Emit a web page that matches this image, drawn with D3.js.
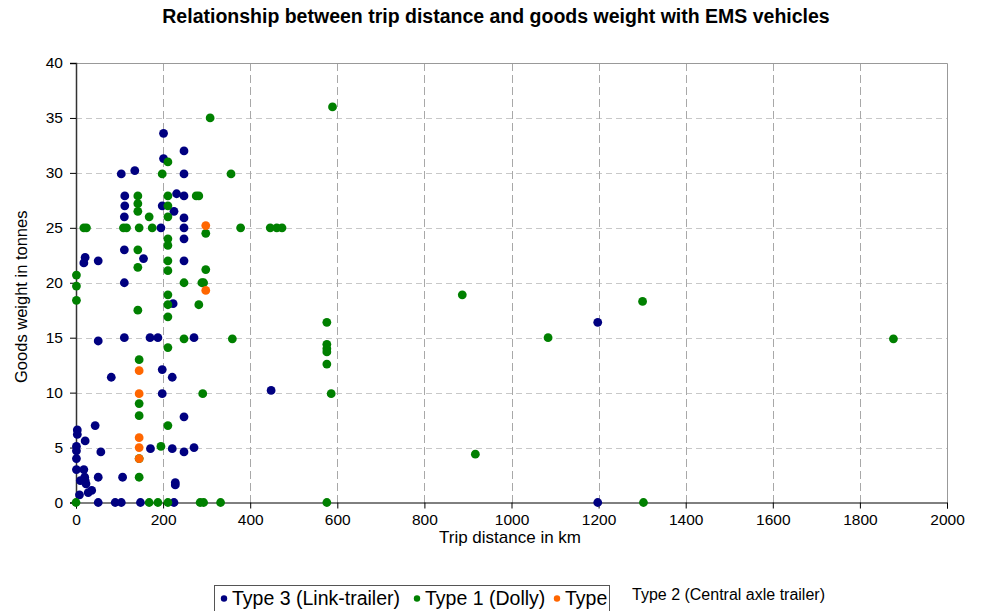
<!DOCTYPE html>
<html>
<head>
<meta charset="utf-8">
<script src="https://cdn.jsdelivr.net/npm/d3@7"></script>
<style>
  body { margin: 0; background: #fff; }
  svg { font-family: "Liberation Sans", Arial, sans-serif; }
</style>
</head>
<body>
<svg id="chart" width="982" height="611"></svg>
<script>
// trip distance (km), goods weight (t) per vehicle type
const type3 = [
  [201, 33.6], [248, 32.0], [201, 31.3], [104, 29.9], [135, 30.2], [248, 29.9],
  [112, 27.9], [231, 28.1], [248, 27.9], [112, 27.0], [198, 27.0], [225, 26.5],
  [111, 26.0], [248, 25.9], [195, 25.0], [248, 25.0], [111, 23.0], [248, 24.0],
  [155, 22.2], [21, 22.3], [18, 21.8], [51, 22.0], [248, 22.0], [111, 20.0],
  [223, 18.1], [51, 14.7], [111, 15.0], [170, 15.0], [188, 15.0], [271, 15.0],
  [1198, 16.4], [448, 10.2], [81, 11.4], [198, 12.1], [221, 11.4], [198, 9.9],
  [248, 7.8], [44, 7.0], [3, 6.6], [3, 6.2], [21, 5.6], [1, 5.1], [1, 4.7],
  [1, 4.0], [57, 4.6], [171, 4.9], [221, 4.9], [248, 4.6], [271, 5.0], [1, 3.0],
  [18, 3.0], [20, 2.3], [21, 2.0], [10, 2.0], [51, 2.3], [107, 2.3], [23, 1.7],
  [36, 1.1], [28, 0.9], [8, 0.7], [228, 1.8], [228, 1.6], [51, 0], [90, 0],
  [104, 0], [148, 0], [225, 0], [1198, 0]
];
const type1 = [
  [589, 36.0], [308, 35.0], [211, 31.0], [198, 29.9], [356, 29.9], [142, 27.9],
  [211, 27.9], [276, 27.9], [282, 27.9], [142, 27.2], [211, 27.0], [142, 26.5],
  [211, 26.0], [168, 26.0], [18, 25.0], [24, 25.0], [109, 25.0], [116, 25.0],
  [145, 25.0], [175, 25.0], [298, 24.5], [378, 25.0], [446, 25.0], [461, 25.0],
  [473, 25.0], [211, 24.0], [211, 23.4], [142, 23.0], [142, 21.4], [211, 22.0],
  [211, 21.1], [298, 21.2], [248, 20.0], [289, 20.0], [293, 20.0], [1, 20.7],
  [1, 19.7], [1, 18.4], [211, 18.9], [211, 18.0], [282, 18.0], [211, 16.9],
  [142, 17.5], [248, 14.9], [359, 14.9], [211, 14.1], [576, 16.4], [576, 14.4],
  [576, 14.0], [576, 13.7], [576, 12.6], [291, 9.9], [586, 9.9], [887, 18.9],
  [1084, 15.0], [917, 4.4], [1301, 18.3], [1303, 0], [1877, 14.9], [145, 13.0],
  [145, 9.0], [145, 7.9], [145, 4.0], [195, 5.1], [145, 2.3], [211, 7.0],
  [0, 0], [168, 0], [188, 0], [211, 0], [285, 0], [293, 0], [332, 0], [576, 0]
];
const type2 = [
  [298, 25.2], [298, 19.3], [145, 12.0], [145, 9.9], [145, 5.9], [145, 5.0], [145, 4.0]
];

const seriesNames = ["Type 3 (Link-trailer)", "Type 1 (Dolly)", "Type 2 (Central axle trailer)"];
const seriesColors = ["#000080", "#008000", "#ff6600"];
const xTicks = [0, 200, 400, 600, 800, 1000, 1200, 1400, 1600, 1800, 2000];
const yTicks = [0, 5, 10, 15, 20, 25, 30, 35, 40];

const svg = d3.select("#chart");
const plotL = 76, plotR = 947, plotT = 63, plotB = 502.5;

const x = d3.scaleLinear().domain([0, 2000]).range([plotL, plotR]);
const y = d3.scaleLinear().domain([0, 40]).range([plotB, plotT]);

// gridlines
svg.append("g").selectAll("line")
  .data(yTicks.slice(1, -1))
  .join("line")
  .attr("x1", plotL).attr("x2", plotR)
  .attr("y1", d => Math.round(y(d)) + 0.5).attr("y2", d => Math.round(y(d)) + 0.5)
  .attr("stroke", "#c8c8c8").attr("stroke-dasharray", "6,4");

svg.append("g").selectAll("line")
  .data(xTicks.slice(1, -1))
  .join("line")
  .attr("y1", plotT).attr("y2", plotB)
  .attr("x1", d => Math.round(x(d)) + 0.5).attr("x2", d => Math.round(x(d)) + 0.5)
  .attr("stroke", "#a8a8a8").attr("stroke-dasharray", "8,4");

// plot frame (top, right)
svg.append("path")
  .attr("d", `M${plotL},${plotT + 0.5}H${plotR + 0.5}V${plotB}`)
  .attr("fill", "none").attr("stroke", "#999");

// axes
const yAxis = svg.append("g")
  .attr("transform", `translate(${plotL},0)`)
  .call(d3.axisLeft(y).tickValues(yTicks).tickSize(6).tickPadding(7));
const xAxis = svg.append("g")
  .attr("transform", `translate(0,${plotB})`)
  .call(d3.axisBottom(x).tickValues(xTicks).tickFormat(d3.format("d")).tickSize(6).tickPadding(5));

[yAxis, xAxis].forEach(g => {
  g.selectAll("path, line").attr("stroke", "#000");
  g.selectAll("text").attr("font-size", 15.5).attr("fill", "#000")
    .attr("font-family", "'Liberation Sans', Arial, sans-serif");
});
yAxis.select(".domain").attr("stroke", "#333").attr("stroke-width", 1.5);

// points: type 3 first, then type 1, type 2 on top
[type3, type1, type2].forEach((pts, i) => {
  svg.append("g").selectAll("circle")
    .data(pts)
    .join("circle")
    .attr("cx", d => x(d[0]))
    .attr("cy", d => y(d[1]))
    .attr("r", 4.4)
    .attr("fill", seriesColors[i]);
});

// titles
svg.append("text")
  .attr("x", 496).attr("y", 23)
  .attr("text-anchor", "middle")
  .attr("font-size", 19.5).attr("font-weight", "bold")
  .text("Relationship between trip distance and goods weight with EMS vehicles");

svg.append("text")
  .attr("x", 510).attr("y", 543)
  .attr("text-anchor", "middle")
  .attr("font-size", 17)
  .text("Trip distance in km");

svg.append("text")
  .attr("transform", `translate(27,${(plotT + plotB) / 2 + 14}) rotate(-90)`)
  .attr("text-anchor", "middle")
  .attr("font-size", 16.5)
  .text("Goods weight in tonnes");

// legend box; the last entry is cut off by the box edge, its full name stands outside
const legend = svg.append("g");
legend.append("clipPath").attr("id", "legclip")
  .append("rect").attr("x", 214).attr("y", 585).attr("width", 395).attr("height", 30);
legend.append("rect")
  .attr("x", 214.5).attr("y", 585.5).attr("width", 395).attr("height", 40)
  .attr("fill", "#fff").attr("stroke", "#555");

const legX = [224, 417, 557];
const items = legend.append("g").attr("clip-path", "url(#legclip)");
seriesNames.forEach((name, i) => {
  items.append("circle")
    .attr("cx", legX[i]).attr("cy", 598.5).attr("r", 3.2)
    .attr("fill", seriesColors[i]);
  items.append("text")
    .attr("x", legX[i] + 8).attr("y", 605)
    .attr("font-size", 19.5)
    .text(i === 2 ? name.split(" ")[0] : name);
});

svg.append("text")
  .attr("x", 632).attr("y", 600)
  .attr("font-size", 16)
  .text(seriesNames[2]);
</script>
</body>
</html>
